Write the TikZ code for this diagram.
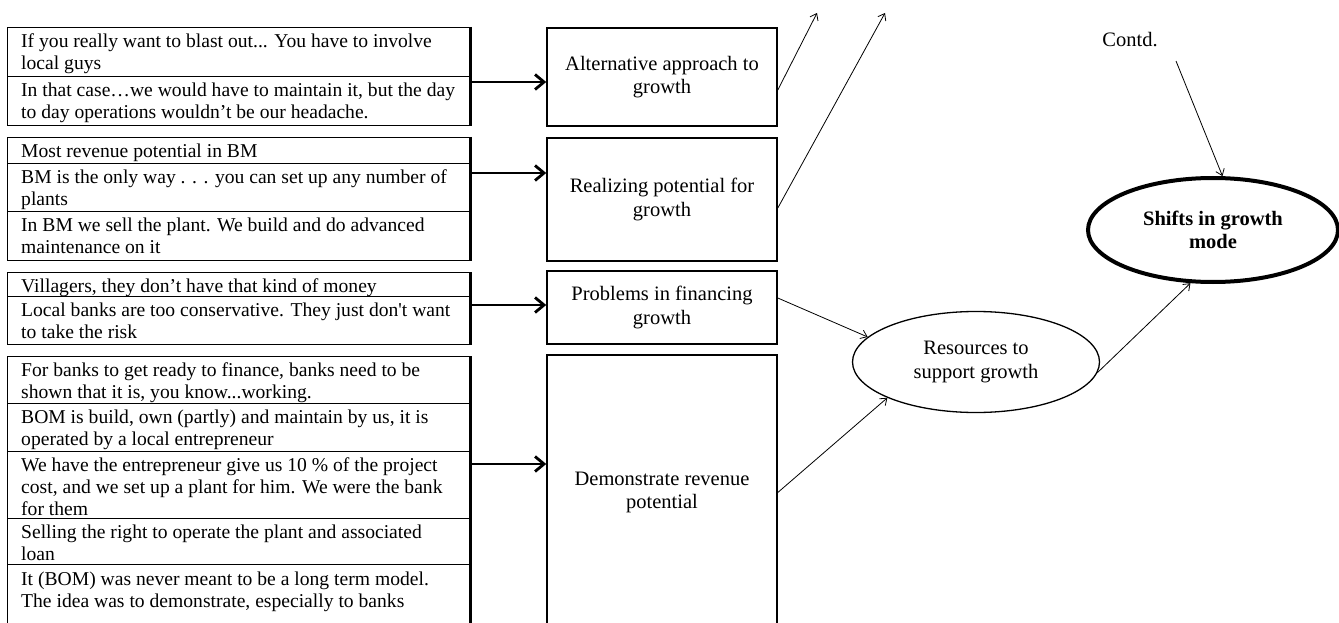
\documentclass[tikz,border=0pt]{standalone}
\usepackage{fontspec}
\setmainfont{Liberation Serif}
\usetikzlibrary{arrows.meta,shapes.geometric,calc}
\begin{document}
\begin{tikzpicture}[x=1pt,y=-1pt,
  lbox/.style={draw,line width=1.4pt,rectangle,anchor=north west,minimum width=462pt,inner sep=0pt},
  ltext/.style={anchor=north west,inner sep=0pt,align=left,font=\fontsize{19.6}{22}\selectfont},
  rbox/.style={draw,line width=1.6pt,rectangle,minimum width=230pt,inner sep=0pt,align=center,font=\fontsize{20.5}{23.5}\selectfont},
  rtext/.style={align=center,inner sep=0pt,font=\fontsize{20.5}{23.5}\selectfont},
  divline/.style={line width=0.9pt},
  redge/.style={line width=3.5pt},
  thickarr/.style={line width=2.8pt,-{Straight Barb[length=9pt,width=15pt]}},
  thinarr/.style={line width=0.8pt,-{Straight Barb[length=6pt,width=9pt]}},
]
\useasboundingbox (0,0) rectangle (1339,623);

% left boxes
\node[lbox,minimum height=98pt] (lb1) at (7,27) {};
\node[lbox,minimum height=123pt] (lb2) at (7,137) {};
\node[lbox,minimum height=72pt] (lb3) at (7,272) {};
\node[lbox,minimum height=274pt] (lb4) at (7,356) {};
\foreach \b in {lb1,lb2,lb3,lb4}{\draw[redge] (\b.north east) -- (\b.south east);}

% dividers
\coordinate (d1) at (0,76);
\coordinate (d2) at (0,163);
\coordinate (d3) at (0,211);
\coordinate (d4) at (0,296);
\coordinate (d5) at (0,403);
\coordinate (d6) at (0,451);
\coordinate (d7) at (0,518);
\coordinate (d8) at (0,564);
\draw[divline] (lb1.west |- d1) -- (lb1.east |- d1);
\draw[divline] (lb2.west |- d2) -- (lb2.east |- d2);
\draw[divline] (lb2.west |- d3) -- (lb2.east |- d3);
\draw[divline] (lb3.west |- d4) -- (lb3.east |- d4);
\draw[divline] (lb4.west |- d5) -- (lb4.east |- d5);
\draw[divline] (lb4.west |- d6) -- (lb4.east |- d6);
\draw[divline] (lb4.west |- d7) -- (lb4.east |- d7);
\draw[divline] (lb4.west |- d8) -- (lb4.east |- d8);

% left texts
\node[ltext] (t1a) at (21,31.6) {\strut If you really want to blast out... You have to involve\\local guys};
\node[ltext] (t1b) at (21,80.6) {\strut In that case…we would have to maintain it, but the day\\to day operations wouldn’t be our headache.};
\node[ltext] (t2a) at (21,141.6) {\strut Most revenue potential in BM};
\node[ltext] (t2b) at (21,167.6) {\strut BM is the only way . . . you can set up any number of\\plants};
\node[ltext] (t2c) at (21,215.6) {\strut In BM we sell the plant. We build and do advanced\\maintenance on it};
\node[ltext] (t3a) at (21,276.6) {\strut Villagers, they don’t have that kind of money};
\node[ltext] (t3b) at (21,300.6) {\strut Local banks are too conservative. They just don\textquotesingle t want\\to take the risk};
\node[ltext] (t4a) at (21,360.6) {\strut For banks to get ready to finance, banks need to be\\shown that it is, you know...working.};
\node[ltext] (t4b) at (21,407.6) {\strut BOM is build, own (partly) and maintain by us, it is\\operated by a local entrepreneur};
\node[ltext] (t4c) at (21,455.6) {\strut We have the entrepreneur give us 10 \% of the project\\cost, and we set up a plant for him. We were the bank\\for them};
\node[ltext] (t4d) at (21,522.6) {\strut Selling the right to operate the plant and associated\\loan};
\node[ltext] (t4e) at (21,570) {\strut It (BOM) was never meant to be a long term model.\\The idea was to demonstrate, especially to banks};

% right boxes
\node[rbox,minimum height=98pt] (alt) at (662,77) {Alternative approach to\\growth};
\node[rbox,minimum height=123pt] (real) at (662,199.5) {Realizing potential for\\growth};
\node[rbox,minimum height=73pt] (prob) at (662,307.5) {Problems in financing\\growth};
\node[rbox,minimum height=275pt] (demo) at (662,492.5) {Demonstrate revenue\\potential};

% ellipses
\node[ellipse,draw,line width=1.3pt,minimum width=247pt,minimum height=101pt,rtext] (res) at (976,362) {Resources to\\support growth};
\node[ellipse,draw,line width=4pt,minimum width=250pt,minimum height=104pt,rtext,font=\fontsize{20.5}{23.5}\selectfont\bfseries] (shift) at (1213,230) {Shifts in growth\\mode};
\node[rtext] (contd) at (1130,40) {Contd.};

% thick arrows
\coordinate (a1) at (0,82);
\coordinate (a2) at (0,173);
\coordinate (a3) at (0,305);
\coordinate (a4) at (0,464);
\draw[thickarr] (lb1.east |- a1) -- (alt.west |- a1);
\draw[thickarr] (lb2.east |- a2) -- (real.west |- a2);
\draw[thickarr] (lb3.east |- a3) -- (prob.west |- a3);
\draw[thickarr] (lb4.east |- a4) -- (demo.west |- a4);

% thin arrows
\coordinate (e1) at (817,13);
\coordinate (e2) at (885,13);
\coordinate (cs) at (1176,61);
\draw[thinarr] ($(alt.east)+(0,13)$) -- (e1);
\draw[thinarr] ($(real.east)+(0,8.5)$) -- (e2);
\draw[thinarr] ($(prob.east)+(0,-9.5)$) -- (res.167);
\draw[thinarr] (demo.east) -- (res.202);
\draw[thinarr] (res.355) -- (shift.247);
\draw[thinarr] (cs) -- (shift.80);
\end{tikzpicture}
\end{document}
